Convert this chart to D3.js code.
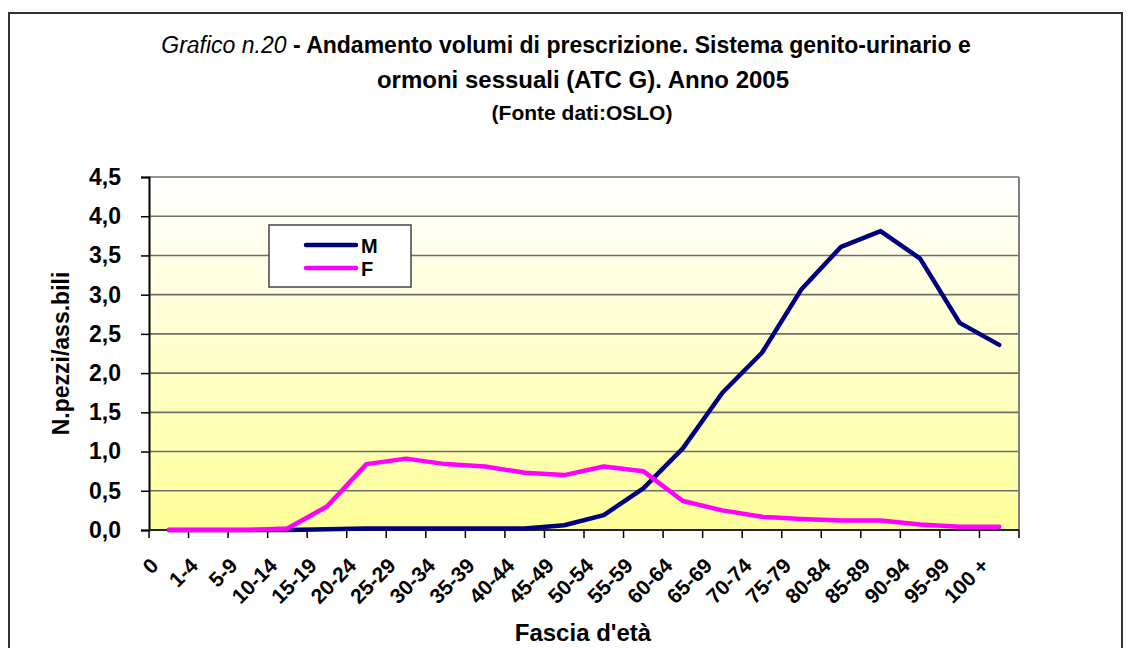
<!DOCTYPE html>
<html>
<head>
<meta charset="utf-8">
<script src="https://cdn.jsdelivr.net/npm/d3@7"></script>
<style>
  body { margin: 0; background: #fff; }
  svg text { font-family: Arial, "Liberation Sans", sans-serif; font-weight: bold; fill: #000; }
</style>
</head>
<body>
<div id="chart"></div>
<script>
const categories = ['0', '1-4', '5-9', '10-14', '15-19', '20-24', '25-29', '30-34', '35-39', '40-44',
  '45-49', '50-54', '55-59', '60-64', '65-69', '70-74', '75-79', '80-84', '85-89', '90-94', '95-99', '100 +'];
const maschi = [0, 0, 0, 0, 0.01, 0.02, 0.02, 0.02, 0.02, 0.02,
  0.06, 0.19, 0.53, 1.04, 1.75, 2.26, 3.07, 3.61, 3.81, 3.46, 2.64, 2.36];
const femmine = [0, 0, 0, 0.02, 0.30, 0.84, 0.91, 0.84, 0.81, 0.73,
  0.70, 0.81, 0.75, 0.37, 0.25, 0.17, 0.14, 0.12, 0.12, 0.07, 0.04, 0.04];
const yTicks = [0, 0.5, 1, 1.5, 2, 2.5, 3, 3.5, 4, 4.5];
const series = [
  { name: 'M', values: maschi, color: '#000080' },
  { name: 'F', values: femmine, color: '#ff00ff' }
];

const w = 1133;
const h = 648;
const plot = { left: 149, right: 1019, top: 177, bottom: 530 };

const svg = d3.select('#chart')
  .append('svg')
  .attr('width', w)
  .attr('height', h);

// outer frame
svg.append('rect')
  .attr('x', 9).attr('y', 13)
  .attr('width', 1113).attr('height', 660)
  .attr('fill', 'none')
  .attr('stroke', '#333')
  .attr('stroke-width', 2);

// title
const title = svg.append('text')
  .attr('x', 566)
  .attr('y', 53)
  .attr('text-anchor', 'middle')
  .style('font-size', '23px');
title.append('tspan').style('font-style', 'italic').style('font-weight', 'normal').text('Grafico n.20');
title.append('tspan').text(' - Andamento volumi di prescrizione. Sistema genito-urinario e');

svg.append('text')
  .attr('x', 583).attr('y', 88)
  .attr('text-anchor', 'middle')
  .style('font-size', '24px')
  .text('ormoni sessuali (ATC G). Anno 2005');

svg.append('text')
  .attr('x', 582).attr('y', 120)
  .attr('text-anchor', 'middle')
  .style('font-size', '21px')
  .text('(Fonte dati:OSLO)');

// background gradient
const grad = svg.append('defs').append('linearGradient')
  .attr('id', 'bg')
  .attr('x1', 0).attr('y1', 0).attr('x2', 0).attr('y2', 1);
grad.append('stop').attr('offset', '0%').attr('stop-color', '#ffffff');
grad.append('stop').attr('offset', '100%').attr('stop-color', '#ffff99');

svg.append('rect')
  .attr('x', plot.left).attr('y', plot.top)
  .attr('width', plot.right - plot.left)
  .attr('height', plot.bottom - plot.top)
  .attr('fill', 'url(#bg)');

const x = d3.scaleBand()
  .domain(categories)
  .range([plot.left, plot.right]);

const y = d3.scaleLinear()
  .domain([0, 4.5])
  .range([plot.bottom, plot.top]);

const fmt = d3.formatLocale({ decimal: ',', thousands: '.', grouping: [3], currency: ['€', ''] }).format('.1f');

// gridlines
svg.append('g')
  .selectAll('line')
  .data(yTicks.filter(d => d > 0))
  .enter()
  .append('line')
  .attr('x1', plot.left).attr('x2', plot.right)
  .attr('y1', d => y(d)).attr('y2', d => y(d))
  .attr('stroke', '#6e6e6e')
  .attr('stroke-width', 1.6);

// right border
svg.append('line')
  .attr('x1', plot.right).attr('x2', plot.right)
  .attr('y1', plot.top).attr('y2', plot.bottom)
  .attr('stroke', '#808080')
  .attr('stroke-width', 2);

// y axis
const yAxis = d3.axisLeft(y)
  .tickValues(yTicks)
  .tickFormat(fmt)
  .tickSize(8)
  .tickPadding(20);

const gy = svg.append('g')
  .attr('transform', 'translate(' + plot.left + ', 0)')
  .call(yAxis);
gy.select('.domain').attr('stroke', '#000').attr('stroke-width', 2);
gy.selectAll('.tick line').attr('stroke', '#000').attr('stroke-width', 1.5);
gy.selectAll('.tick text').style('font-size', '23px').style('font-family', 'Arial, "Liberation Sans", sans-serif');

// x axis ticks at band edges
const edges = categories.map(c => x(c)).concat([x.range()[1]]);
svg.append('g')
  .selectAll('line')
  .data(edges)
  .enter()
  .append('line')
  .attr('x1', d => d).attr('x2', d => d)
  .attr('y1', plot.bottom).attr('y2', plot.bottom + 8)
  .attr('stroke', '#000')
  .attr('stroke-width', 1.5);

svg.append('line')
  .attr('x1', plot.left).attr('x2', plot.right)
  .attr('y1', plot.bottom).attr('y2', plot.bottom)
  .attr('stroke', '#222')
  .attr('stroke-width', 2);

svg.append('g')
  .selectAll('text')
  .data(categories)
  .enter()
  .append('text')
  .attr('transform', d => 'translate(' + (x(d) + x.bandwidth() / 2 - 9) + ',' + (plot.bottom + 37) + ') rotate(-45)')
  .attr('text-anchor', 'end')
  .style('font-size', '21px')
  .text(d => d);

// axis titles
svg.append('text')
  .attr('x', 583).attr('y', 641)
  .attr('text-anchor', 'middle')
  .style('font-size', '24px')
  .text("Fascia d'età");

svg.append('text')
  .attr('transform', 'translate(69,' + ((plot.top + plot.bottom) / 2) + ') rotate(-90)')
  .attr('text-anchor', 'middle')
  .style('font-size', '23px')
  .text('N.pezzi/ass.bili');

// lines
const line = d3.line()
  .x((d, i) => x(categories[i]) + x.bandwidth() / 2)
  .y(d => y(d));

svg.append('g')
  .selectAll('path')
  .data(series)
  .enter()
  .append('path')
  .attr('d', d => line(d.values))
  .attr('fill', 'none')
  .attr('stroke', d => d.color)
  .attr('stroke-width', 4.5)
  .attr('stroke-linejoin', 'round')
  .attr('stroke-linecap', 'round');

// legend
const legend = svg.append('g').attr('transform', 'translate(269,225)');
legend.append('rect')
  .attr('width', 142).attr('height', 62)
  .attr('fill', '#fff')
  .attr('stroke', '#444')
  .attr('stroke-width', 1.5);
const li = legend.selectAll('g')
  .data(series)
  .enter()
  .append('g')
  .attr('transform', (d, i) => 'translate(0,' + (20 + i * 23) + ')');
li.append('line')
  .attr('x1', 37).attr('x2', 87)
  .attr('stroke', d => d.color)
  .attr('stroke-width', 4.5)
  .attr('stroke-linecap', 'round');
li.append('text')
  .attr('x', 92).attr('y', 8)
  .style('font-size', '20px')
  .text(d => d.name);
</script>
</body>
</html>
